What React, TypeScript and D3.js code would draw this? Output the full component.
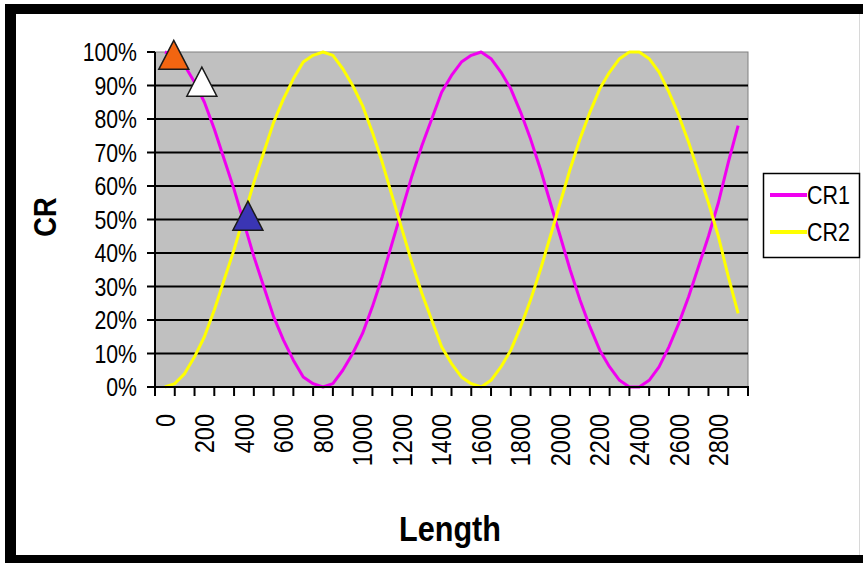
import React, { useRef, useEffect } from 'react';
import * as d3 from 'd3';

// lengths sampled every 50
const lengths = [
    0, 50, 100, 150, 200, 250, 300, 350, 400, 450,
    500, 550, 600, 650, 700, 750, 800, 850, 900, 950,
    1000, 1050, 1100, 1150, 1200, 1250, 1300, 1350, 1400, 1450,
    1500, 1550, 1600, 1650, 1700, 1750, 1800, 1850, 1900, 1950,
    2000, 2050, 2100, 2150, 2200, 2250, 2300, 2350, 2400, 2450,
    2500, 2550, 2600, 2650, 2700, 2750, 2800, 2850, 2900,
];

const cr1 = [
    100, 99, 96, 91, 85, 77, 68, 59, 49, 39,
    30, 21, 14, 8, 3, 1, 0, 1, 5, 10,
    16, 24, 33, 43, 53, 63, 72, 80, 88, 93,
    97, 99, 100, 98, 94, 89, 82, 74, 65, 55,
    45, 35, 26, 18, 11, 6, 2, 0, 0, 2,
    6, 12, 19, 27, 36, 45, 55, 67, 78,
];

const cr2 = [
    0, 1, 4, 9, 15, 23, 32, 41, 51, 61,
    70, 79, 86, 92, 97, 99, 100, 99, 95, 90,
    84, 76, 67, 57, 47, 37, 28, 20, 12, 7,
    3, 1, 0, 2, 6, 11, 18, 26, 35, 45,
    55, 65, 74, 82, 89, 94, 98, 100, 100, 98,
    94, 88, 81, 73, 64, 55, 45, 33, 22,
];

const seriesNames = ['CR1', 'CR2'];
const seriesColors = ['#f000f0', '#ffff00'];

const yTicks = [0, 10, 20, 30, 40, 50, 60, 70, 80, 90, 100];
const xTickLabels = [0, 200, 400, 600, 800, 1000, 1200, 1400, 1600, 1800, 2000, 2200, 2400, 2600, 2800];
// category boundaries (tick marks)
const xTickMarks = [
    -50, 50, 150, 250, 350, 450, 550, 650, 750, 850, 950, 1050, 1150, 1250, 1350, 1450,
    1550, 1650, 1750, 1850, 1950, 2050, 2150, 2250, 2350, 2450, 2550, 2650, 2750, 2850, 2950,
];

// triangle markers on CR1
const markerLengths = [45, 187, 420];
const markerValues = [99, 91, 51];
const markerColors = ['#f26511', '#ffffff', '#3a35b4'];

const FONT = '"Liberation Sans", Arial, sans-serif';

const App: React.FC = () => {
    const svgRef = useRef<SVGSVGElement | null>(null);

    useEffect(() => {
        const svg = d3.select(svgRef.current);
        svg.selectAll('*').remove();

        const width = 863;
        const height = 563;
        const plot = { left: 155, top: 52, right: 748, bottom: 387 };

        svg.attr('width', width).attr('height', height);

        svg.append('rect').attr('width', width).attr('height', height).attr('fill', '#ffffff');

        // outer frame
        svg.append('rect').attr('x', 5).attr('y', 4).attr('width', width - 5).attr('height', 10).attr('fill', '#000');
        svg.append('rect').attr('x', 5).attr('y', 4).attr('width', 11).attr('height', height - 4).attr('fill', '#000');
        svg.append('rect').attr('x', 5).attr('y', 555).attr('width', width - 5).attr('height', 8).attr('fill', '#000');
        svg.append('line').attr('x1', 859.5).attr('x2', 859.5).attr('y1', 14).attr('y2', 555)
            .attr('stroke', '#d8d8d8').attr('stroke-width', 1);

        const x = d3.scaleLinear().domain([-50, 2950]).range([plot.left, plot.right]);
        const y = d3.scaleLinear().domain([0, 100]).range([plot.bottom, plot.top]);

        // plot area
        svg.append('rect')
            .attr('x', plot.left).attr('y', plot.top)
            .attr('width', plot.right - plot.left).attr('height', plot.bottom - plot.top)
            .attr('fill', '#c0c0c0').attr('stroke', '#808080').attr('stroke-width', 1);

        // gridlines
        svg.append('g').selectAll('line')
            .data(yTicks.filter(t => t > 0 && t < 100))
            .enter().append('line')
            .attr('x1', plot.left).attr('x2', plot.right)
            .attr('y1', d => y(d)).attr('y2', d => y(d))
            .attr('stroke', '#000').attr('stroke-width', 2);

        // lines
        const line = d3.line<number>()
            .x((_, i) => x(lengths[i]))
            .y(d => y(d));

        [cr1, cr2].forEach((values, i) => {
            svg.append('path')
                .datum(values)
                .attr('d', line)
                .attr('fill', 'none')
                .attr('stroke', seriesColors[i])
                .attr('stroke-width', 3)
                .attr('stroke-linejoin', 'round');
        });

        // axes
        svg.append('line').attr('x1', plot.left).attr('x2', plot.left)
            .attr('y1', plot.top).attr('y2', plot.bottom).attr('stroke', '#000').attr('stroke-width', 2);
        svg.append('line').attr('x1', plot.left - 8).attr('x2', plot.right + 1)
            .attr('y1', plot.bottom).attr('y2', plot.bottom).attr('stroke', '#000').attr('stroke-width', 2);

        // y ticks + labels
        const yg = svg.append('g');
        yg.selectAll('line').data(yTicks).enter().append('line')
            .attr('x1', plot.left - 8).attr('x2', plot.left)
            .attr('y1', d => y(d)).attr('y2', d => y(d))
            .attr('stroke', '#000').attr('stroke-width', 2);
        yg.selectAll('text').data(yTicks).enter().append('text')
            .attr('transform', d => `translate(137,${y(d)}) scale(0.85,1)`)
            .attr('dy', '0.36em')
            .attr('text-anchor', 'end')
            .attr('font-family', FONT)
            .attr('font-size', 25)
            .attr('fill', '#000')
            .text(d => `${d}%`);

        // x ticks + labels
        const xg = svg.append('g');
        xg.selectAll('line').data(xTickMarks).enter().append('line')
            .attr('x1', d => x(d)).attr('x2', d => x(d))
            .attr('y1', plot.bottom).attr('y2', plot.bottom + 9)
            .attr('stroke', '#000').attr('stroke-width', 2);
        xg.selectAll('text').data(xTickLabels).enter().append('text')
            .attr('transform', d => `translate(${x(d)},414) rotate(-90) scale(0.87,1)`)
            .attr('dy', '0.36em')
            .attr('text-anchor', 'end')
            .attr('font-family', FONT)
            .attr('font-size', 27)
            .attr('fill', '#000')
            .text(d => String(d));

        // axis titles
        svg.append('text')
            .attr('transform', 'translate(450,541) scale(0.85,1)')
            .attr('text-anchor', 'middle')
            .attr('font-family', FONT)
            .attr('font-weight', 'bold')
            .attr('font-size', 36)
            .text('Length');
        svg.append('text')
            .attr('transform', 'translate(56,217) rotate(-90) scale(0.85,1)')
            .attr('text-anchor', 'middle')
            .attr('font-family', FONT)
            .attr('font-weight', 'bold')
            .attr('font-size', 32)
            .text('CR');

        // triangles
        const tri = 'M0,-15L15,14L-15,14Z';
        markerLengths.forEach((len, i) => {
            svg.append('path')
                .attr('d', tri)
                .attr('transform', `translate(${x(len)},${y(markerValues[i])})`)
                .attr('fill', markerColors[i])
                .attr('stroke', '#1a1a1a')
                .attr('stroke-width', 1.5)
                .attr('stroke-linejoin', 'miter');
        });

        // legend
        const lg = svg.append('g');
        lg.append('rect').attr('x', 763.5).attr('y', 173.5).attr('width', 96).attr('height', 84)
            .attr('fill', '#fff').attr('stroke', '#000').attr('stroke-width', 1.5);
        seriesNames.forEach((name, i) => {
            const ly = 195 + i * 37;
            lg.append('line').attr('x1', 770).attr('x2', 807).attr('y1', ly).attr('y2', ly)
                .attr('stroke', seriesColors[i]).attr('stroke-width', 4);
            lg.append('text')
                .attr('transform', `translate(807,${ly}) scale(0.86,1)`)
                .attr('dy', '0.36em')
                .attr('font-family', FONT)
                .attr('font-size', 25)
                .text(name);
        });
    }, []);

    return (
        <div style={{ position: 'absolute', left: 0, top: 0 }}>
            <svg ref={svgRef} style={{ display: 'block' }}></svg>
        </div>
    );
};

export default App;
